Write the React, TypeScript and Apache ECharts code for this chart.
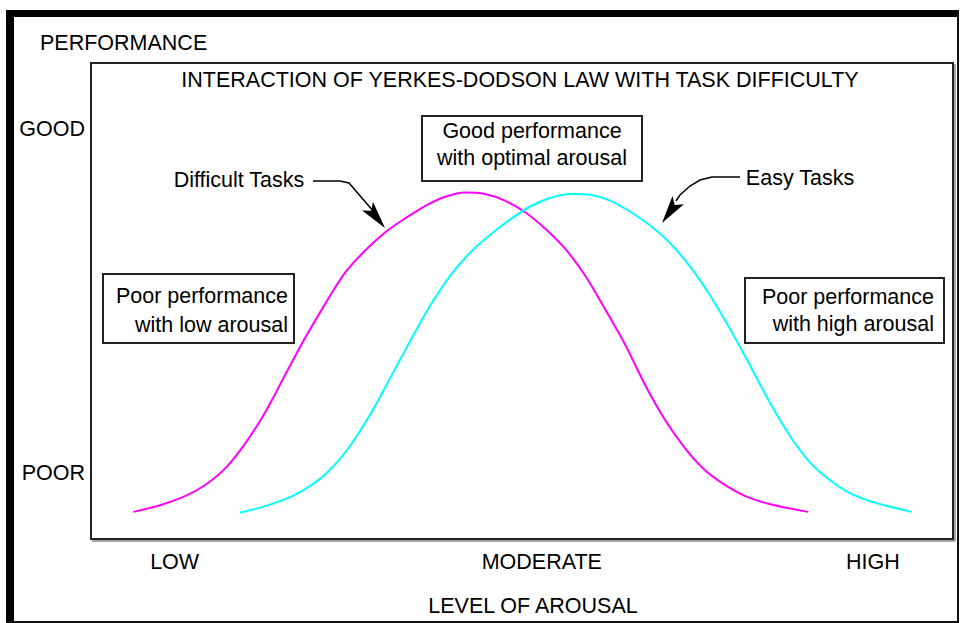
import React, { useEffect, useRef } from "react";
import * as echarts from "echarts";

// Level of arousal (x) and performance (y)
const difficultX = [4.9, 8.0, 10.9, 13.2, 15.6, 17.9, 20.2, 22.5, 24.8, 27.2, 29.5, 31.8, 34.1, 36.4, 38.8, 41.1, 43.4, 45.7, 48.0, 50.4, 52.7, 55.0, 57.3, 59.6, 62.0, 64.3, 66.6, 68.9, 71.2, 73.6, 75.9, 78.8, 83.2];
const difficultY = [5.7, 7.1, 9.0, 11.3, 14.9, 20.1, 26.6, 34.4, 42.1, 49.5, 56.0, 60.6, 64.4, 67.3, 70.0, 71.9, 72.8, 72.5, 71.1, 68.6, 65.2, 61.0, 55.4, 48.4, 40.7, 32.3, 25.0, 19.1, 14.5, 11.3, 9.0, 7.3, 5.7];
const easyX = [17.3, 20.2, 23.1, 25.4, 27.7, 30.1, 32.4, 34.7, 37.0, 39.3, 41.7, 44.0, 46.3, 48.6, 50.9, 53.3, 55.6, 57.9, 60.2, 62.5, 64.9, 67.2, 69.5, 71.8, 74.1, 76.5, 78.8, 81.1, 83.4, 85.7, 88.1, 91.0, 95.2];
const easyY = [5.5, 6.9, 8.8, 11.1, 14.5, 19.7, 26.2, 33.8, 41.5, 48.9, 55.4, 60.2, 63.9, 67.1, 69.8, 71.7, 72.5, 72.3, 71.1, 68.8, 65.8, 62.1, 57.2, 51.2, 44.2, 36.3, 28.5, 21.6, 16.1, 12.4, 9.6, 7.6, 5.7];

const arousalTickValues = [9.7, 52.3, 90.7];
const arousalTickLabels = ["LOW", "MODERATE", "HIGH"];
const perfTickValues = [13.8, 86.2];
const perfTickLabels = ["POOR", "GOOD"];

const FONT = "Liberation Sans, Arial, sans-serif";
const FS = 21.5;

function zip(xs: number[], ys: number[]) {
  return xs.map((x, i) => [x, ys[i]]);
}

function arrowHead(tip: number[], from: number[], len: number, half: number) {
  const dx = tip[0] - from[0];
  const dy = tip[1] - from[1];
  const d = Math.sqrt(dx * dx + dy * dy);
  const ux = dx / d;
  const uy = dy / d;
  const bx = tip[0] - ux * len;
  const by = tip[1] - uy * len;
  return [
    tip,
    [bx - uy * half, by + ux * half],
    [bx + ux * 6, by + uy * 6],
    [bx + uy * half, by - ux * half],
  ];
}

function boxText(x: number, y: number, w: number, h: number, lines: string[], align: string, tx: number, ys: number[]) {
  return {
    type: "group",
    children: [
      { type: "rect", shape: { x, y, width: w, height: h }, style: { fill: "#fff", stroke: "#222", lineWidth: 2 } },
      ...lines.map((t, i) => ({
        type: "text",
        x: tx,
        y: ys[i],
        style: { text: t, fill: "#000", font: `${FS}px ${FONT}`, textAlign: align, textVerticalAlign: "middle" },
      })),
    ],
  };
}

export default function App() {
  const ref = useRef<HTMLDivElement>(null);
  useEffect(() => {
    if (!ref.current) return;
    const chart = echarts.init(ref.current, null, { renderer: "svg" });
    const textStyle = { fontFamily: FONT, fontSize: FS, color: "#000", fontWeight: "normal" as const };
    chart.setOption({
      animation: false,
      backgroundColor: "#fff",
      title: {
        text: "INTERACTION OF YERKES-DODSON LAW WITH TASK DIFFICULTY",
        left: 520,
        top: 69,
        padding: 0,
        textAlign: "center",
        textStyle,
      },
      grid: {
        left: 91,
        top: 63,
        right: 7,
        bottom: 84,
        show: true,
        borderColor: "#222",
        borderWidth: 2,
        backgroundColor: "transparent",
      },
      xAxis: {
        type: "value",
        min: 0,
        max: 100,
        name: "LEVEL OF AROUSAL",
        nameLocation: "middle",
        nameGap: 56,
        nameTextStyle: { ...textStyle, padding: [0, 0, 0, 22] },
        axisLine: { show: false },
        axisTick: { show: false },
        splitLine: { show: false },
        axisLabel: {
          customValues: arousalTickValues,
          formatter: (v: number) => arousalTickLabels[arousalTickValues.indexOf(v)] ?? "",
          margin: 12,
          ...textStyle,
        },
      },
      yAxis: {
        type: "value",
        min: 0,
        max: 100,
        name: "PERFORMANCE",
        nameLocation: "end",
        nameGap: 9,
        nameTextStyle: { ...textStyle, align: "left", padding: [0, 0, 0, -51] },
        axisLine: { show: false },
        axisTick: { show: false },
        splitLine: { show: false },
        axisLabel: {
          customValues: perfTickValues,
          formatter: (v: number) => perfTickLabels[perfTickValues.indexOf(v)] ?? "",
          margin: 6,
          ...textStyle,
        },
      },
      series: [
        {
          name: "Difficult Tasks",
          type: "line",
          data: zip(difficultX, difficultY),
          smooth: 0.3,
          showSymbol: false,
          lineStyle: { color: "#ff00ff", width: 2 },
          z: 3,
        },
        {
          name: "Easy Tasks",
          type: "line",
          data: zip(easyX, easyY),
          smooth: 0.3,
          showSymbol: false,
          lineStyle: { color: "#00ffff", width: 2 },
          z: 3,
        },
      ],
      graphic: [
        // outer frame
        { type: "rect", shape: { x: 6, y: 10, width: 953, height: 7 }, style: { fill: "#000" } },
        { type: "rect", shape: { x: 6, y: 10, width: 8, height: 613 }, style: { fill: "#000" } },
        { type: "rect", shape: { x: 957, y: 10, width: 2, height: 613 }, style: { fill: "#111" } },
        { type: "rect", shape: { x: 6, y: 621, width: 953, height: 2 }, style: { fill: "#111" } },
        // inner box shadow
        { type: "line", shape: { x1: 955, y1: 64, x2: 955, y2: 541 }, style: { stroke: "#888", lineWidth: 1.5 } },
        { type: "line", shape: { x1: 92, y1: 541, x2: 955, y2: 541 }, style: { stroke: "#888", lineWidth: 1.5 } },
        // annotation boxes
        boxText(422, 116, 220, 65, ["Good performance", "with optimal arousal"], "center", 532, [131, 158]),
        boxText(103, 274, 191, 69, ["Poor performance", "with low arousal"], "right", 288, [296, 325]),
        boxText(745, 278, 199, 65, ["Poor performance", "with high arousal"], "right", 934, [297, 324]),
        // Difficult Tasks label and arrow
        { type: "text", x: 239, y: 180, style: { text: "Difficult Tasks", fill: "#000", font: `${FS}px ${FONT}`, textAlign: "center", textVerticalAlign: "middle" } },
        { type: "polyline", shape: { points: [[313, 181], [340, 181], [349, 183], [374, 212]] }, style: { stroke: "#000", lineWidth: 1.5, fill: null } },
        { type: "polygon", shape: { points: arrowHead([385, 228], [349, 183], 28, 7) }, style: { fill: "#000" } },
        // Easy Tasks label and arrow
        { type: "text", x: 800, y: 178, style: { text: "Easy Tasks", fill: "#000", font: `${FS}px ${FONT}`, textAlign: "center", textVerticalAlign: "middle" } },
        { type: "polyline", shape: { points: [[740, 177], [712, 177], [700, 180], [690, 186], [680, 195], [676, 201]] }, style: { stroke: "#000", lineWidth: 1.5, fill: null } },
        { type: "polygon", shape: { points: arrowHead([662, 223], [684, 192], 28, 7) }, style: { fill: "#000" } },
      ],
    });
    return () => chart.dispose();
  }, []);
  return <div ref={ref} style={{ position: "fixed", left: 0, top: 0, width: 960, height: 623 }} />;
}
